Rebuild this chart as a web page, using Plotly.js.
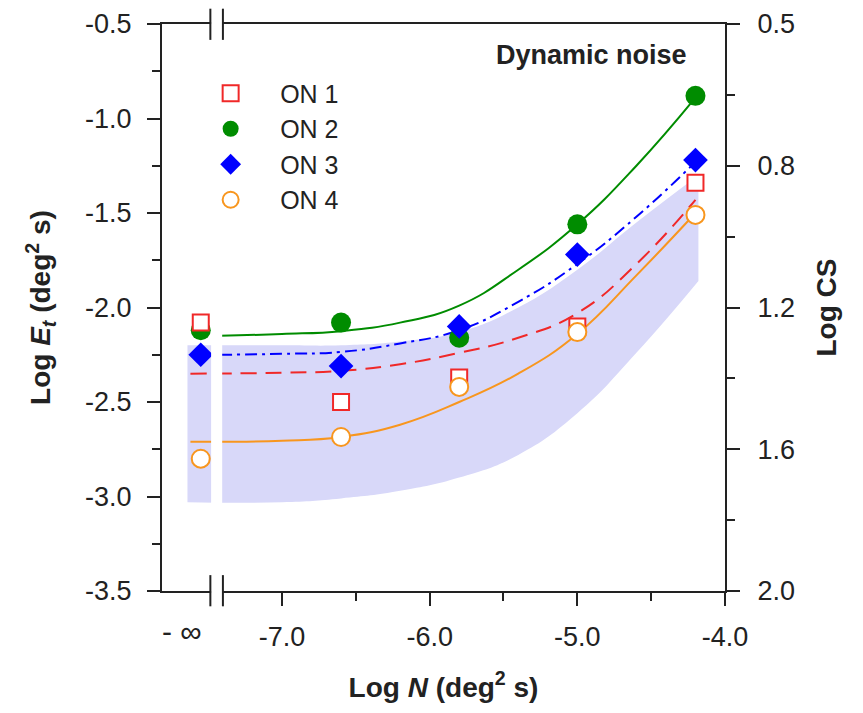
<!DOCTYPE html>
<html>
<head>
<meta charset="utf-8">
<script src="https://cdn.plot.ly/plotly-3.0.1.min.js"></script>
<style>html,body{margin:0;padding:0;background:#fff;}#chart{width:863px;height:713px;}</style>
</head>
<body>
<div id="chart"></div>
<script>
// ---- data ----
// x position used for the "-∞" (no noise) condition
const logN = [-7.55, -6.6, -5.8, -5.0, -4.2];
const on1 = [-2.08, -2.50, -2.37, -2.10, -1.34];
const on2 = [-2.12, -2.08, -2.16, -1.56, -0.88];
const on3 = [-2.25, -2.31, -2.10, -1.72, -1.22];
const on4 = [-2.80, -2.685, -2.42, -2.13, -1.51];
const seriesNames = ['ON 1', 'ON 2', 'ON 3', 'ON 4'];

// fitted curves
const fitXa = [-7.62, -7.0, -6.6, -6.2, -5.8, -5.4, -5.0, -4.6, -4.2];
const fitXb = [-7.42, -7.0, -6.6, -6.2, -5.8, -5.4, -5.0, -4.6, -4.2];
const fit1 = [-2.35, -2.345, -2.335, -2.30, -2.24, -2.16, -2.03, -1.77, -1.43];
const fit2 = [-2.15, -2.14, -2.125, -2.08, -1.99, -1.80, -1.56, -1.25, -0.89];
const fit3 = [-2.25, -2.245, -2.235, -2.19, -2.12, -1.97, -1.77, -1.52, -1.23];
const fit4 = [-2.71, -2.705, -2.685, -2.62, -2.50, -2.35, -2.14, -1.83, -1.50];

// shaded normal range
const bandX = [-7.64, -7.0, -6.6, -6.2, -5.8, -5.4, -5.0, -4.6, -4.18];
const bandLo = [-3.03, -3.03, -3.01, -2.97, -2.90, -2.78, -2.56, -2.24, -1.86];
const bandHi = [-2.20, -2.20, -2.20, -2.18, -2.13, -2.00, -1.80, -1.55, -1.30];

// ticks
const xTickVals = [-7, -6, -5, -4];
const xTickText = ['-7.0', '-6.0', '-5.0', '-4.0'];
const xMinorVals = [-6.5, -5.5, -4.5];
const yTickVals = [-3.5, -3.0, -2.5, -2.0, -1.5, -1.0, -0.5];
const yTickText = ['-3.5', '-3.0', '-2.5', '-2.0', '-1.5', '-1.0', '-0.5'];
const yMinorVals = [-3.25, -2.75, -2.25, -1.75, -1.25, -0.75];
const y2TickVals = [0.4, 0.8, 1.2, 1.6, 2.0];
const y2TickText = ['0.5', '0.8', '1.2', '1.6', '2.0'];
const y2MinorVals = [0.6, 1.0, 1.4, 1.8];

const FONT = 'Liberation Sans, Arial, Helvetica, sans-serif';
const cRed = 'rgb(240,40,40)', cGreen = 'rgb(0,140,0)', cBlue = 'rgb(0,0,255)', cOrange = 'rgb(248,150,30)';
const SM = 1.3;

const traces = [
  {x: bandX, y: bandLo, mode: 'lines', line: {width: 0, shape: 'spline', smoothing: SM}, showlegend: false, hoverinfo: 'skip'},
  {x: bandX, y: bandHi, mode: 'lines', line: {width: 0, shape: 'spline', smoothing: SM}, fill: 'tonexty', fillcolor: 'rgb(216,216,249)', showlegend: false, hoverinfo: 'skip'},
  {x: fitXa, y: fit4, mode: 'lines', line: {color: cOrange, width: 2, shape: 'spline', smoothing: SM}, showlegend: false},
  {x: fitXa, y: fit1, mode: 'lines', line: {color: cRed, width: 2, dash: '16px,9px', shape: 'spline', smoothing: SM}, showlegend: false},
  {x: fitXb, y: fit3, mode: 'lines', line: {color: cBlue, width: 2, dash: '12px,5px,3px,5px', shape: 'spline', smoothing: SM}, showlegend: false},
  {x: fitXb, y: fit2, mode: 'lines', line: {color: cGreen, width: 2, shape: 'spline', smoothing: SM}, showlegend: false},
  {x: logN, y: on2, name: seriesNames[1], mode: 'markers', marker: {symbol: 'circle', size: 20, color: cGreen}, legendrank: 2},
  {x: logN, y: on1, name: seriesNames[0], mode: 'markers', marker: {symbol: 'square', size: 16, color: 'white', line: {color: cRed, width: 2}}, legendrank: 1},
  {x: logN, y: on3, name: seriesNames[2], mode: 'markers', marker: {symbol: 'diamond', size: 19, color: cBlue}, legendrank: 3},
  {x: logN, y: on4, name: seriesNames[3], mode: 'markers', marker: {symbol: 'circle', size: 18, color: 'white', line: {color: cOrange, width: 2}}, legendrank: 4},
  {x: [null], y: [null], yaxis: 'y2', mode: 'markers', showlegend: false, hoverinfo: 'skip'}
];

const axisCommon = {
  showgrid: false, zeroline: false, showline: true, linewidth: 2, linecolor: '#222',
  ticks: 'outside', ticklen: 13, tickwidth: 2, tickcolor: '#222',
  tickfont: {family: FONT, size: 27, color: '#222'}, tickmode: 'array'
};

const layout = {
  width: 863, height: 713,
  margin: {l: 162, r: 138, t: 24, b: 122},
  paper_bgcolor: 'white', plot_bgcolor: 'white',
  font: {family: FONT, color: '#222'},
  showlegend: true,
  legend: {x: 0.034, y: 0.918, xanchor: 'left', yanchor: 'top', bgcolor: 'rgba(0,0,0,0)',
           font: {family: FONT, size: 25, color: '#222'}, itemwidth: 89, traceorder: 'normal'},
  xaxis: Object.assign({}, axisCommon, {
    range: [-7.8125, -4.0], tickvals: xTickVals, ticktext: xTickText, mirror: true,
    ticklabelstandoff: 8,
    minor: {tickmode: 'array', tickvals: xMinorVals, ticks: 'outside', ticklen: 8, tickwidth: 2, tickcolor: '#222'},
    title: {text: '<b>Log <i>N</i> (deg<sup>2</sup> s)</b>', font: {family: FONT, size: 28, color: '#222'}, standoff: 26},
    automargin: false
  }),
  yaxis: Object.assign({}, axisCommon, {
    range: [-3.5, -0.5], tickvals: yTickVals, ticktext: yTickText,
    ticklabelstandoff: 10,
    minor: {tickmode: 'array', tickvals: yMinorVals, ticks: 'outside', ticklen: 8, tickwidth: 2, tickcolor: '#222'},
    title: {text: '<b>Log <i>E<sub>t</sub></i> (deg<sup>2</sup> s)</b>', font: {family: FONT, size: 28, color: '#222'}, standoff: 26},
    automargin: false
  }),
  yaxis2: Object.assign({}, axisCommon, {
    overlaying: 'y', side: 'right', anchor: 'x',
    range: [2.0, 0.4], tickvals: y2TickVals, ticktext: y2TickText,
    ticklabelstandoff: 12,
    minor: {tickmode: 'array', tickvals: y2MinorVals, ticks: 'outside', ticklen: 8, tickwidth: 2, tickcolor: '#222'},
    title: {text: '<b>Log CS</b>', font: {family: FONT, size: 28, color: '#222'}, standoff: 22},
    automargin: false
  }),
  shapes: [
    {type: 'rect', xref: 'x', yref: 'paper', x0: -7.48, x1: -7.405, y0: -0.05, y1: 1.05, fillcolor: 'white', line: {width: 0}, layer: 'above'},
    {type: 'line', xref: 'x', yref: 'paper', x0: -7.485, x1: -7.485, y0: -0.027, y1: 0.028, line: {color: '#222', width: 2}, layer: 'above'},
    {type: 'line', xref: 'x', yref: 'paper', x0: -7.40, x1: -7.40, y0: -0.027, y1: 0.028, line: {color: '#222', width: 2}, layer: 'above'},
    {type: 'line', xref: 'x', yref: 'paper', x0: -7.485, x1: -7.485, y0: 0.972, y1: 1.027, line: {color: '#222', width: 2}, layer: 'above'},
    {type: 'line', xref: 'x', yref: 'paper', x0: -7.40, x1: -7.40, y0: 0.972, y1: 1.027, line: {color: '#222', width: 2}, layer: 'above'}
  ],
  annotations: [
    {text: '<b>Dynamic noise</b>', xref: 'paper', yref: 'paper', x: 0.762, y: 0.945, showarrow: false,
     font: {family: FONT, size: 27, color: '#222'}, xanchor: 'center', yanchor: 'middle'},
    {text: '- ∞', xref: 'paper', yref: 'paper', x: 0.0355, y: -0.072, showarrow: false,
     font: {family: FONT, size: 30, color: '#222'}, xanchor: 'center', yanchor: 'middle'}
  ]
};

Plotly.newPlot('chart', traces, layout, {displayModeBar: false, staticPlot: true});
</script>
</body>
</html>
